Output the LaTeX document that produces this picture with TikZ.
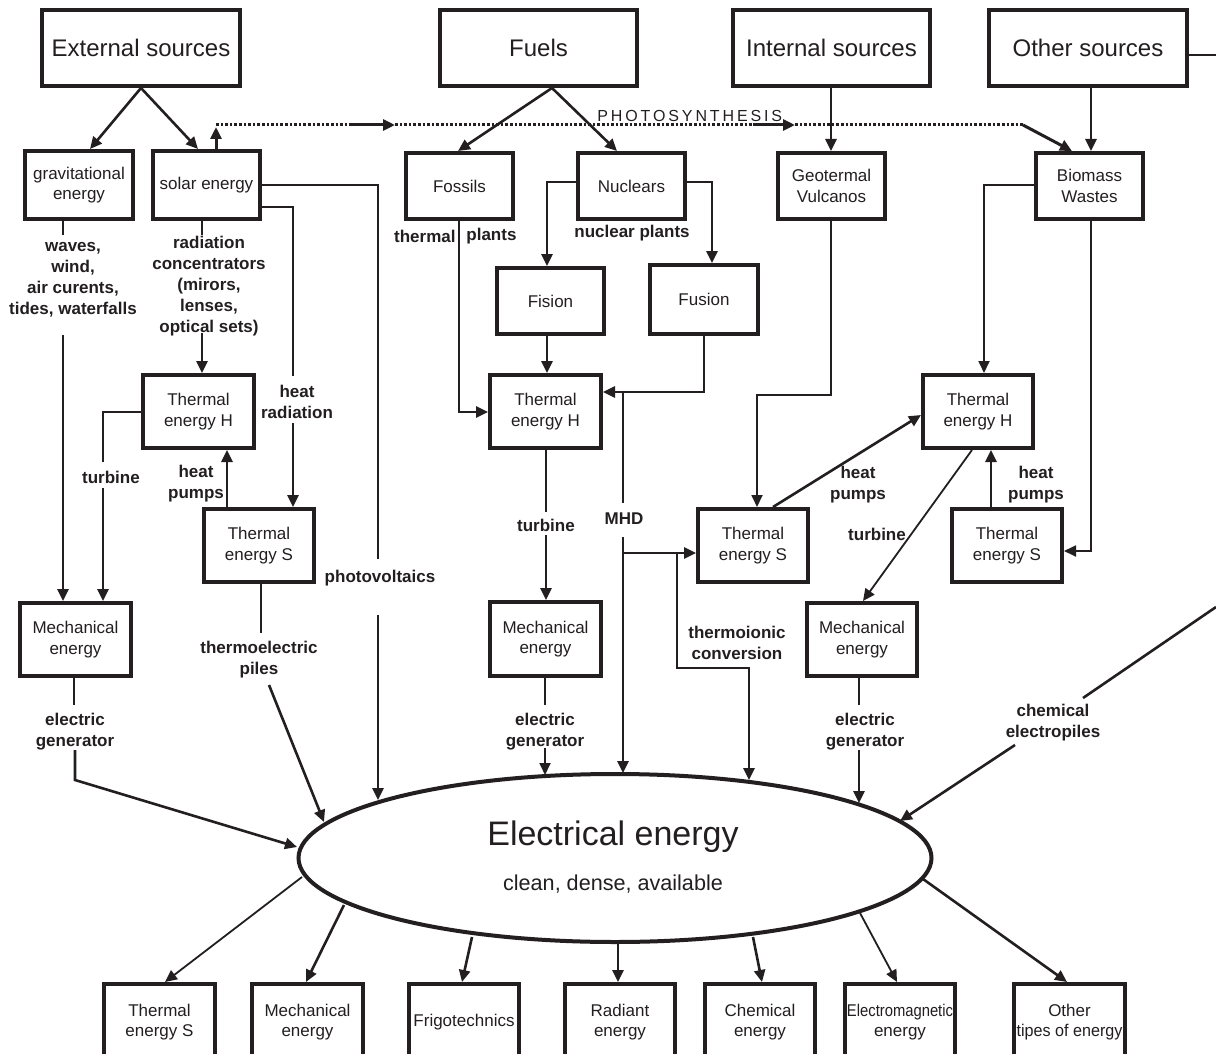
\documentclass[tikz,border=0pt]{standalone}
\usepackage{fontspec}
\setmainfont{Liberation Sans}
\newfontfamily\spacedfont[LetterSpace=18]{Liberation Sans}
\usetikzlibrary{arrows.meta,shapes.geometric}
\definecolor{ink}{RGB}{35,31,32}
\newcommand\boxfont{\fontsize{8.5}{10.3}\selectfont}
\newcommand\titlefont{\fontsize{12}{14}\selectfont}
\newcommand\lblfont{\fontsize{8.5}{10.5}\selectfont\bfseries}
% box from corner (x1,y1) to (x2,y2), in pixel units
\newcommand\bx[7][box]{%
  \pgfmathsetmacro\bxcx{(#3+#5)/2}\pgfmathsetmacro\bxcy{(#4+#6)/2}%
  \pgfmathsetmacro\bxw{(#5-#3)*0.5}\pgfmathsetmacro\bxh{(#6-#4)*0.5}%
  \node[#1, minimum width=\bxw pt, minimum height=\bxh pt] (#2) at (\bxcx,\bxcy) {#7};}
\begin{document}
\begin{tikzpicture}[x=0.5pt,y=-0.5pt,
  box/.style={draw=ink, line width=2pt, inner sep=0pt, align=center, font=\boxfont, text=ink},
  tbox/.style={box, font=\titlefont},
  lbl/.style={font=\lblfont, align=center, inner sep=0pt, text=ink},
  con/.style={draw=ink, line width=1.3pt},
  thin/.style={draw=ink, line width=0.9pt},
  arr/.style={-{Triangle[length=6pt,width=5.5pt]}},
  dotl/.style={draw=ink, line width=1.5pt, dash pattern=on 1.3pt off 1pt},
]
\useasboundingbox (0,0) rectangle (1216,1054);
\clip (0,0) rectangle (1216,1054);
\fill[white] (0,0) rectangle (1216,1054);

% ---------- top row ----------
\bx[tbox]{ext}{42}{10}{240}{86}{External sources}
\bx[tbox]{fuel}{440}{10}{637}{86}{Fuels}
\bx[tbox]{ints}{733}{10}{930}{86}{Internal sources}
\bx[tbox]{oths}{989}{10}{1187}{86}{Other sources}

% ---------- second row ----------
\bx{grav}{25}{151}{133}{219}{gravitational\\energy}
\bx{solar}{153}{151}{260}{219}{solar energy}
\bx{foss}{406}{153}{513}{219}{Fossils}
\bx{nucl}{578}{153}{685}{219}{Nuclears}
\bx{geo}{778}{153}{885}{219}{Geotermal\\Vulcanos}
\bx{bio}{1036}{153}{1143}{219}{Biomass\\Wastes}
\bx{fis}{497}{268}{604}{334}{Fision}
\bx{fus}{650}{265}{758}{334}{Fusion}

% ---------- thermal / mechanical ----------
\bx{thHL}{143}{375}{254}{448}{Thermal\\energy H}
\bx{thHM}{490}{375}{601}{448}{Thermal\\energy H}
\bx{thHR}{923}{375}{1033}{448}{Thermal\\energy H}
\bx{thSL}{204}{509}{314}{582}{Thermal\\energy S}
\bx{thSM}{698}{509}{808}{582}{Thermal\\energy S}
\bx{thSR}{952}{509}{1062}{582}{Thermal\\energy S}
\bx{mecL}{20}{603}{131}{676}{Mechanical\\energy}
\bx{mecM}{490}{602}{601}{676}{Mechanical\\energy}
\bx{mecR}{807}{603}{917}{676}{Mechanical\\energy}

% ---------- bottom row ----------
\bx{oTh}{104}{984}{215}{1060}{Thermal\\energy S}
\bx{oMe}{252}{984}{363}{1060}{Mechanical\\energy}
\bx{oFr}{409}{984}{519}{1060}{Frigotechnics}
\bx{oRa}{565}{984}{675}{1060}{Radiant\\energy}
\bx{oCh}{705}{984}{815}{1060}{Chemical\\energy}
\bx{oEm}{845}{984}{955}{1060}{\scalebox{0.87}[1]{Electromagnetic}\\energy}
\bx{oOt}{1014}{984}{1125}{1060}{Other\\\scalebox{0.95}[1]{tipes of energy}}

% ---------- ellipse ----------
\node[draw=ink, line width=2pt, ellipse, minimum width=316.5pt, minimum height=84pt, inner sep=0pt] (ee) at (615,858) {};
\node[font=\fontsize{17}{20}\selectfont, text=ink, inner sep=0pt] (eet) at (613,837) {Electrical energy};
\node[font=\fontsize{10.8}{13}\selectfont, text=ink, inner sep=0pt] (ees) at (613,884) {clean, dense, available};

\coordinate (eGL) at (297,847);
\coordinate (eTE) at (324,822);
\coordinate (ePV) at (378,800);
\coordinate (eGM) at (545,775);
\coordinate (eMHD) at (623,773);
\coordinate (eTI) at (749,780);
\coordinate (eGR) at (859,803);
\coordinate (eCH) at (900,821);

% ---------- labels ----------
\node[lbl] (lwaves) at (73,280) {waves,\\wind,\\air curents,\\tides, waterfalls};
\node[lbl] (lrad) at (209,286) {radiation\\concentrators\\(mirors,\\lenses,\\optical sets)};
\node[lbl] (lpv) at (380,578) {photovoltaics};
\node[lbl] (lhr) at (297,401.5) {heat\\radiation};
\node[lbl] (ltL) at (111,477) {turbine};
\node[lbl] (lhpL) at (196,483.5) {heat\\pumps};
\node[lbl] (lte) at (259,659.5) {thermoelectric\\piles};
\node[lbl] (legL) at (75,731.5) {electric\\generator};
\node[lbl, anchor=east] (lthm) at (456,236) {thermal};
\node[lbl, anchor=west] (lpl) at (466,236) {plants};
\node[lbl] (lnp) at (632,233) {nuclear plants};
\node[lbl] (ltM) at (546,525) {turbine};
\node[lbl] (lmhd) at (624,519) {MHD};
\node[lbl] (lti) at (737,643) {thermoionic\\conversion};
\node[lbl] (legM) at (545,731.5) {electric\\generator};
\node[lbl] (lhpM) at (858,484.5) {heat\\pumps};
\node[lbl] (lhpR) at (1036,484.5) {heat\\pumps};
\node[lbl] (ltR) at (877,534) {turbine};
\node[lbl] (legR) at (865,731.5) {electric\\generator};
\node[lbl] (lce) at (1053,723) {chemical\\electropiles};
\node[anchor=base west, inner sep=0pt, font=\spacedfont\fontsize{8}{9}\selectfont, text=ink] (lph) at (597,122) {PHOTOSYNTHESIS};

% ---------- top connectors ----------
\draw[con,arr] (ext.south) -- (grav.north -| 90,0);
\draw[con,arr] (ext.south) -- (solar.north -| 198,0);
\draw[con,arr] (fuel.south -| 552,0) -- (foss.north -| 458,0);
\draw[con,arr] (fuel.south -| 552,0) -- (nucl.north -| 617,0);
\draw[con,arr] (ints.south -| 831,0) -- (geo.north -| 831,0);
\draw[con,arr] (oths.south -| 1091,0) -- (bio.north -| 1091,0);
\draw[con] (oths.east |- 0,55) -- (1216,55);

% photosynthesis
\coordinate (p0) at (216,125);
\coordinate (p1) at (352,125);
\coordinate (p2) at (395,125);
\coordinate (p3) at (753,125);
\coordinate (p4) at (795,125);
\coordinate (p5) at (1023,125);
\draw[con,arr,line width=1.5pt] (solar.north -| 216,0) -- (216,127);
\draw[dotl] (p0) -- (p1);
\draw[con,arr,line width=1.5pt] (p1) -- (p2);
\draw[dotl] (p2) -- (p3);
\draw[con,arr,line width=1.5pt] (p3) -- (p4);
\draw[dotl] (p4) -- (p5);
\draw[con,arr,line width=1.5pt] (p5) -- (bio.north -| 1072,0);

% ---------- left column ----------
\draw[con] (grav.south -| 63,0) -- (63,235);
\draw[con,arr] (63,335) -- (mecL.north -| 63,0);
\draw[con] (solar.south -| 202,0) -- (202,235);
\draw[con,arr] (202,333) -- (thHL.north -| 202,0);
\draw[con] (solar.east |- 0,185) -- (378,185) -- (378,559);
\draw[con,arr] (378,615) -- (ePV);
\draw[con] (solar.east |- 0,207) -- (293,207) -- (293,376);
\draw[con,arr] (293,423) -- (thSL.north -| 293,0);
\draw[thin] (thHL.west |- 0,412) -- (103,412) -- (103,462);
\draw[con,arr] (103,488) -- (mecL.north -| 103,0);
\draw[con,arr] (thSL.north -| 227,0) -- (thHL.south -| 227,0);
\draw[con] (thSL.south -| 261,0) -- (261,633);
\draw[con,arr] (269,685) -- (eTE);
\draw[con] (mecL.south -| 74,0) -- (74,705);
\draw[con,arr] (75,750) -- (75,780) -- (eGL);

% ---------- fuels column ----------
\draw[con,arr] (foss.south -| 459,0) -- (459,412) -- (thHM.west |- 0,412);
\draw[con,arr] (nucl.west |- 0,182) -- (547,182) -- (fis.north -| 547,0);
\draw[con,arr] (nucl.east |- 0,182) -- (712,182) -- (fus.north -| 712,0);
\draw[con,arr] (fis.south -| 547,0) -- (thHM.north -| 547,0);
\draw[con,arr] (fus.south -| 704,0) -- (704,392) -- (thHM.east |- 0,392);
\draw[con] (623,392) -- (623,503);
\draw[con,arr] (623,537) -- (eMHD);
\draw[con,arr] (623,553) -- (thSM.west |- 0,553);
\draw[con,arr] (677,553) -- (677,668) -- (749,668) -- (eTI);
\draw[thin] (thHM.south -| 546,0) -- (546,512);
\draw[con,arr] (546,535) -- (mecM.north -| 546,0);
\draw[thin] (mecM.south -| 545,0) -- (545,705);
\draw[thin,arr] (545,748) -- (eGM);

% ---------- internal / other ----------
\draw[thin,arr] (geo.south -| 831,0) -- (831,395) -- (757,395) -- (thSM.north -| 757,0);
\draw[con,arr] (thSM.north -| 773,0) -- (thHR.west |- 0,415);
\draw[thin,arr] (bio.west |- 0,185) -- (984,185) -- (thHR.north -| 984,0);
\draw[thin,arr] (bio.south -| 1091,0) -- (1091,551) -- (thSR.east |- 0,551);
\draw[con,arr] (thSR.north -| 991,0) -- (thHR.south -| 991,0);
\draw[thin,arr] (thHR.south -| 972,0) -- (mecR.north -| 863,0);
\draw[thin] (mecR.south -| 859,0) -- (859,705);
\draw[con,arr] (859,750) -- (eGR);
\draw[con] (1216,607) -- (1083,698);
\draw[con,arr] (1015,745) -- (eCH);

% ---------- ellipse outputs ----------
\draw[thin,arr] (302,877) -- (oTh.north -| 165,0);
\draw[con,arr] (344,905) -- (oMe.north -| 306,0);
\draw[con,arr] (472,937) -- (oFr.north -| 462,0);
\draw[con,arr] (618,942) -- (oRa.north -| 618,0);
\draw[con,arr] (753,937) -- (oCh.north -| 762,0);
\draw[thin,arr] (860,913) -- (oEm.north -| 897,0);
\draw[con,arr] (923,879) -- (oOt.north -| 1067,0);
\end{tikzpicture}
\end{document}
